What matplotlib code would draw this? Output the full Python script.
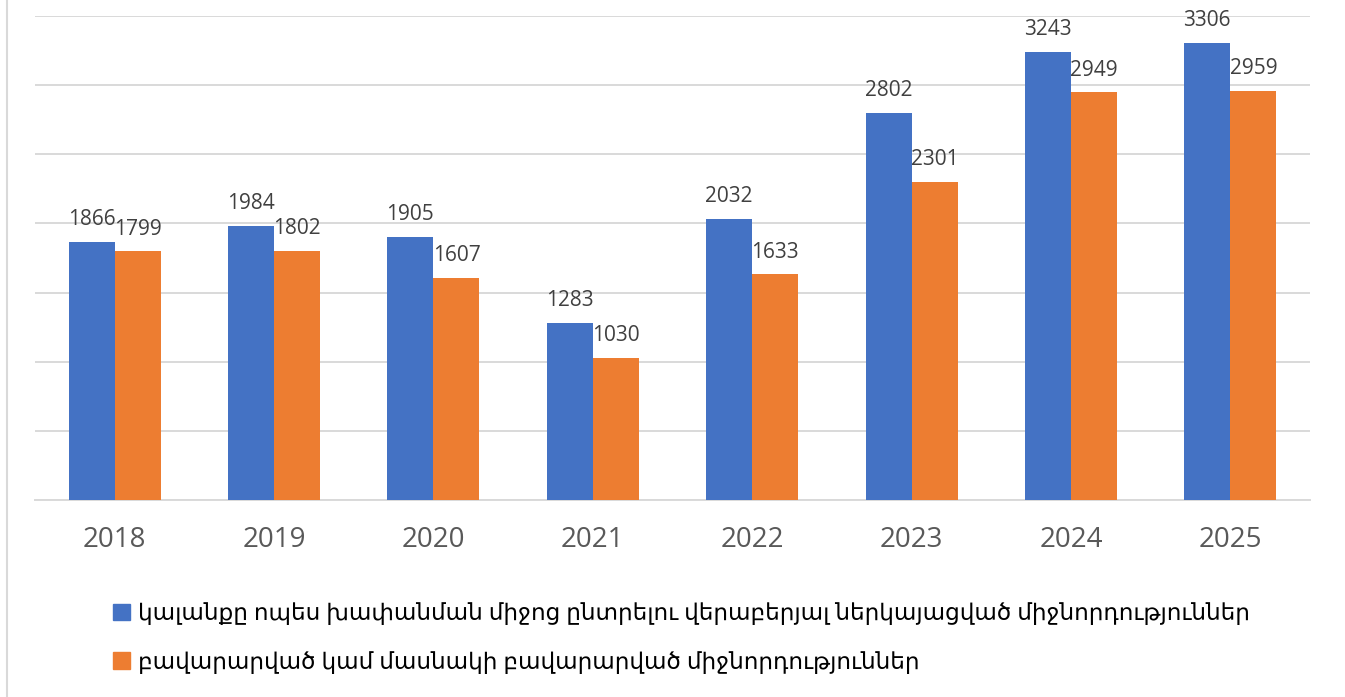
import matplotlib
matplotlib.use("Agg")
import matplotlib.pyplot as plt
import numpy as np
from matplotlib.lines import Line2D
from matplotlib.patches import Patch

years = ["2018", "2019", "2020", "2021", "2022", "2023", "2024", "2025"]
series_names = [
    "կալանքը ոպես խափանման միջոց ընտրելու վերաբերյալ ներկայացված միջնորդություններ",
    "բավարարված կամ մասնակի բավարարված միջնորդություններ",
]
presented = [1866, 1984, 1905, 1283, 2032, 2802, 3243, 3306]
granted = [1799, 1802, 1607, 1030, 1633, 2301, 2949, 2959]

blue = "#4472C4"
orange = "#ED7D31"
grid_col = "#D9D9D9"

plt.rcParams["font.family"] = ["Open Sans", "DejaVu Sans"]

fig = plt.figure(figsize=(13.45, 6.97), dpi=100)
W, H = 1345, 697
ax = fig.add_axes([35 / W, (H - 500) / H, 1275 / W, 484 / H])

x = np.arange(len(years))
w = 0.289
ax.bar(x - w / 2, presented, width=w, color=blue, zorder=3)
ax.bar(x + w / 2, granted, width=w, color=orange, zorder=3)

# value labels above bars
for xi, v in zip(x - w / 2, presented):
    ax.annotate(str(v), (xi, v), xytext=(0, 12), textcoords="offset points",
                ha="center", va="baseline", fontsize=15, color="#404040")
for xi, v in zip(x + w / 2, granted):
    ax.annotate(str(v), (xi, v), xytext=(0, 12), textcoords="offset points",
                ha="center", va="baseline", fontsize=15, color="#404040")

ax.set_xlim(-0.5, len(years) - 0.5)
ax.set_ylim(0, 3500)
ax.set_yticks(np.arange(0, 3501, 500))
ax.set_yticklabels([])
ax.yaxis.grid(True, color=grid_col, linewidth=1.4, zorder=0)
ax.tick_params(axis="y", length=0)
ax.set_xticks(x)
ax.set_xticklabels(years, fontsize=20, color="#595959")
ax.tick_params(axis="x", length=0, pad=19)
for s in ["top", "right", "left"]:
    ax.spines[s].set_visible(False)
ax.spines["bottom"].set_color(grid_col)
ax.spines["bottom"].set_linewidth(1.4)

handles = [Patch(color=blue), Patch(color=orange)]
fig.legend(handles, series_names, loc="upper left",
           bbox_to_anchor=(104 / W, 1 - 593 / H), frameon=False,
           fontsize=16.7, handlelength=0.72, handleheight=0.72,
           handletextpad=0.35, labelspacing=1.05, borderaxespad=0)

# thin frame line on the left edge
fig.add_artist(Line2D([6.5 / W, 6.5 / W], [0, 1], transform=fig.transFigure,
                      color=grid_col, linewidth=1.5))

fig.savefig("out.png", dpi=100)
